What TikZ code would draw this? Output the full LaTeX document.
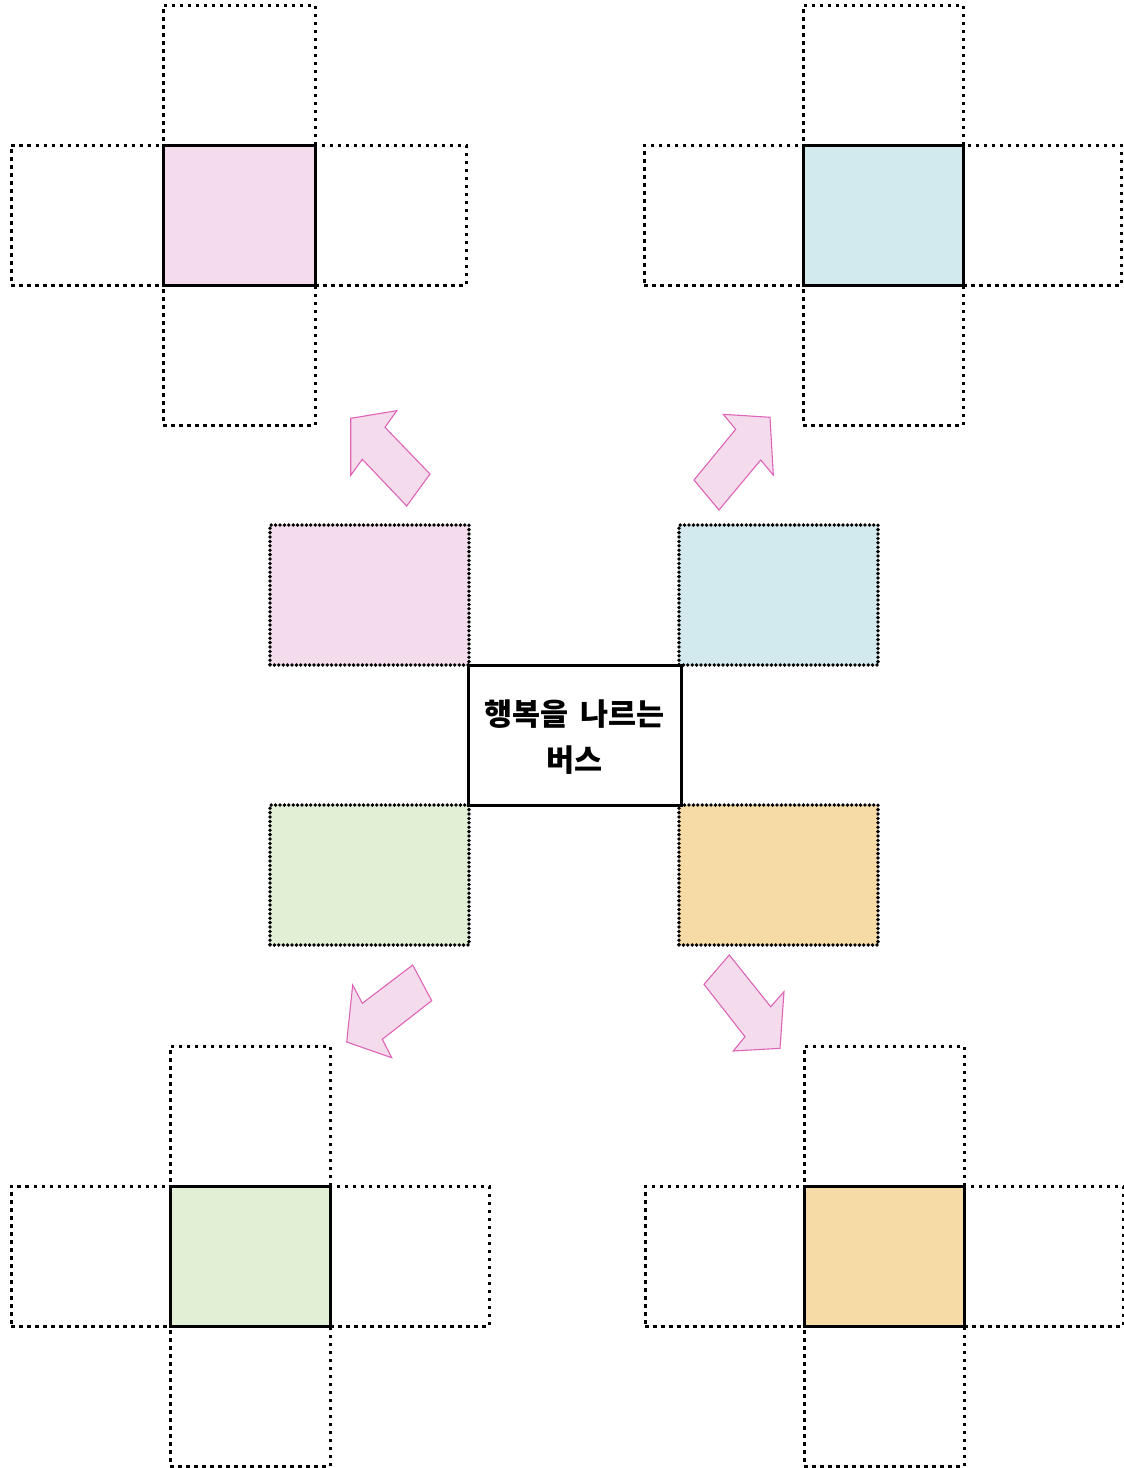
\documentclass[tikz,border=0pt]{standalone}
\usepackage{fontspec}
\newfontfamily\kr{Noto Sans CJK KR}
\definecolor{cpink}{RGB}{244,220,236}
\definecolor{cblue}{RGB}{210,234,238}
\definecolor{cgreen}{RGB}{225,239,212}
\definecolor{corange}{RGB}{246,219,167}
\definecolor{arrfill}{RGB}{244,220,236}
\definecolor{arrdraw}{RGB}{222,100,184}
\begin{document}
\begin{tikzpicture}[x=1pt,y=-1pt,
  arm/.style={draw=black,line width=3pt,dash pattern=on 3.5pt off 4.5pt,inner sep=0pt,outer sep=0pt,rectangle},
  core/.style={draw=black,line width=3pt,inner sep=0pt,outer sep=0pt,rectangle},
  dotbox/.style={draw=black,line width=3.8pt,dash pattern=on 0pt off 4.4pt,line cap=round,inner sep=0pt,outer sep=0pt,rectangle,minimum width=199pt,minimum height=140pt},
  fatarrow/.style={fill=arrfill,draw=arrdraw,line width=1.1pt,line join=miter}]
\useasboundingbox (0,0) rectangle (1124,1468);
% ---------- top-left cross ----------
\node[arm,minimum width=152pt,minimum height=140pt] (tlT) at (239,75) {};
\node[arm,minimum width=152pt,minimum height=140pt] (tlL) at (87,215) {};
\node[arm,minimum width=151pt,minimum height=140pt] (tlR) at (390.5,215) {};
\node[arm,minimum width=152pt,minimum height=140pt] (tlB) at (239,355) {};
\node[core,fill=cpink,minimum width=152pt,minimum height=140pt] (tlC) at (239,215) {};
% ---------- top-right cross ----------
\node[arm,minimum width=160pt,minimum height=140pt] (trT) at (883,75) {};
\node[arm,minimum width=159pt,minimum height=140pt] (trL) at (723.5,215) {};
\node[arm,minimum width=158pt,minimum height=140pt] (trR) at (1042,215) {};
\node[arm,minimum width=160pt,minimum height=140pt] (trB) at (883,355) {};
\node[core,fill=cblue,minimum width=160pt,minimum height=140pt] (trC) at (883,215) {};
% ---------- bottom-left cross ----------
\node[arm,minimum width=160pt,minimum height=140pt] (blT) at (250,1116) {};
\node[arm,minimum width=159pt,minimum height=140pt] (blL) at (90.5,1256) {};
\node[arm,minimum width=159pt,minimum height=140pt] (blR) at (409.5,1256) {};
\node[arm,minimum width=160pt,minimum height=140pt] (blB) at (250,1396) {};
\node[core,fill=cgreen,minimum width=160pt,minimum height=140pt] (blC) at (250,1256) {};
% ---------- bottom-right cross ----------
\node[arm,minimum width=160pt,minimum height=140pt] (brT) at (884,1116) {};
\node[arm,minimum width=159pt,minimum height=140pt] (brL) at (724.5,1256) {};
\node[arm,minimum width=159pt,minimum height=140pt] (brR) at (1043.5,1256) {};
\node[arm,minimum width=160pt,minimum height=140pt] (brB) at (884,1396) {};
\node[core,fill=corange,minimum width=160pt,minimum height=140pt] (brC) at (884,1256) {};
% ---------- middle ----------
\node[dotbox,fill=cpink] (mP) at (369.5,595) {};
\node[dotbox,fill=cblue] (mB) at (778.5,595) {};
\node[dotbox,fill=cgreen] (mG) at (369.5,875) {};
\node[dotbox,fill=corange] (mO) at (778.5,875) {};
\node[core,fill=white,minimum width=213pt,minimum height=140pt] (ctr) at (574.5,735) {};
\node[align=center,inner sep=0pt,font=\kr\bfseries\fontsize{30.5pt}{46pt}\selectfont] (ctrtxt) at (574.5,737) {행복을\hspace{0.4em}나르는\\버스};
% ---------- arrows ----------
\draw[fatarrow] (350.7,418.3) -- (396.7,410.7) -- (385,427.3) -- (430,474) -- (406.7,506) -- (362.3,459.3) -- (350.7,475.3) -- cycle;
\draw[fatarrow] (723.3,414.3) -- (770,417.3) -- (773.3,475) -- (760.7,460) -- (719,510) -- (694,480) -- (735.7,429.3) -- cycle;
\draw[fatarrow] (412.7,965) -- (431.7,1000.7) -- (382.3,1039.3) -- (391.7,1057.7) -- (346.7,1042) -- (352.7,985) -- (362.3,1003.3) -- cycle;
\draw[fatarrow] (729.3,955) -- (770.7,1006.7) -- (784,991.7) -- (780,1048.3) -- (733.3,1051) -- (745,1036.7) -- (704,984.3) -- cycle;
\end{tikzpicture}
\end{document}
